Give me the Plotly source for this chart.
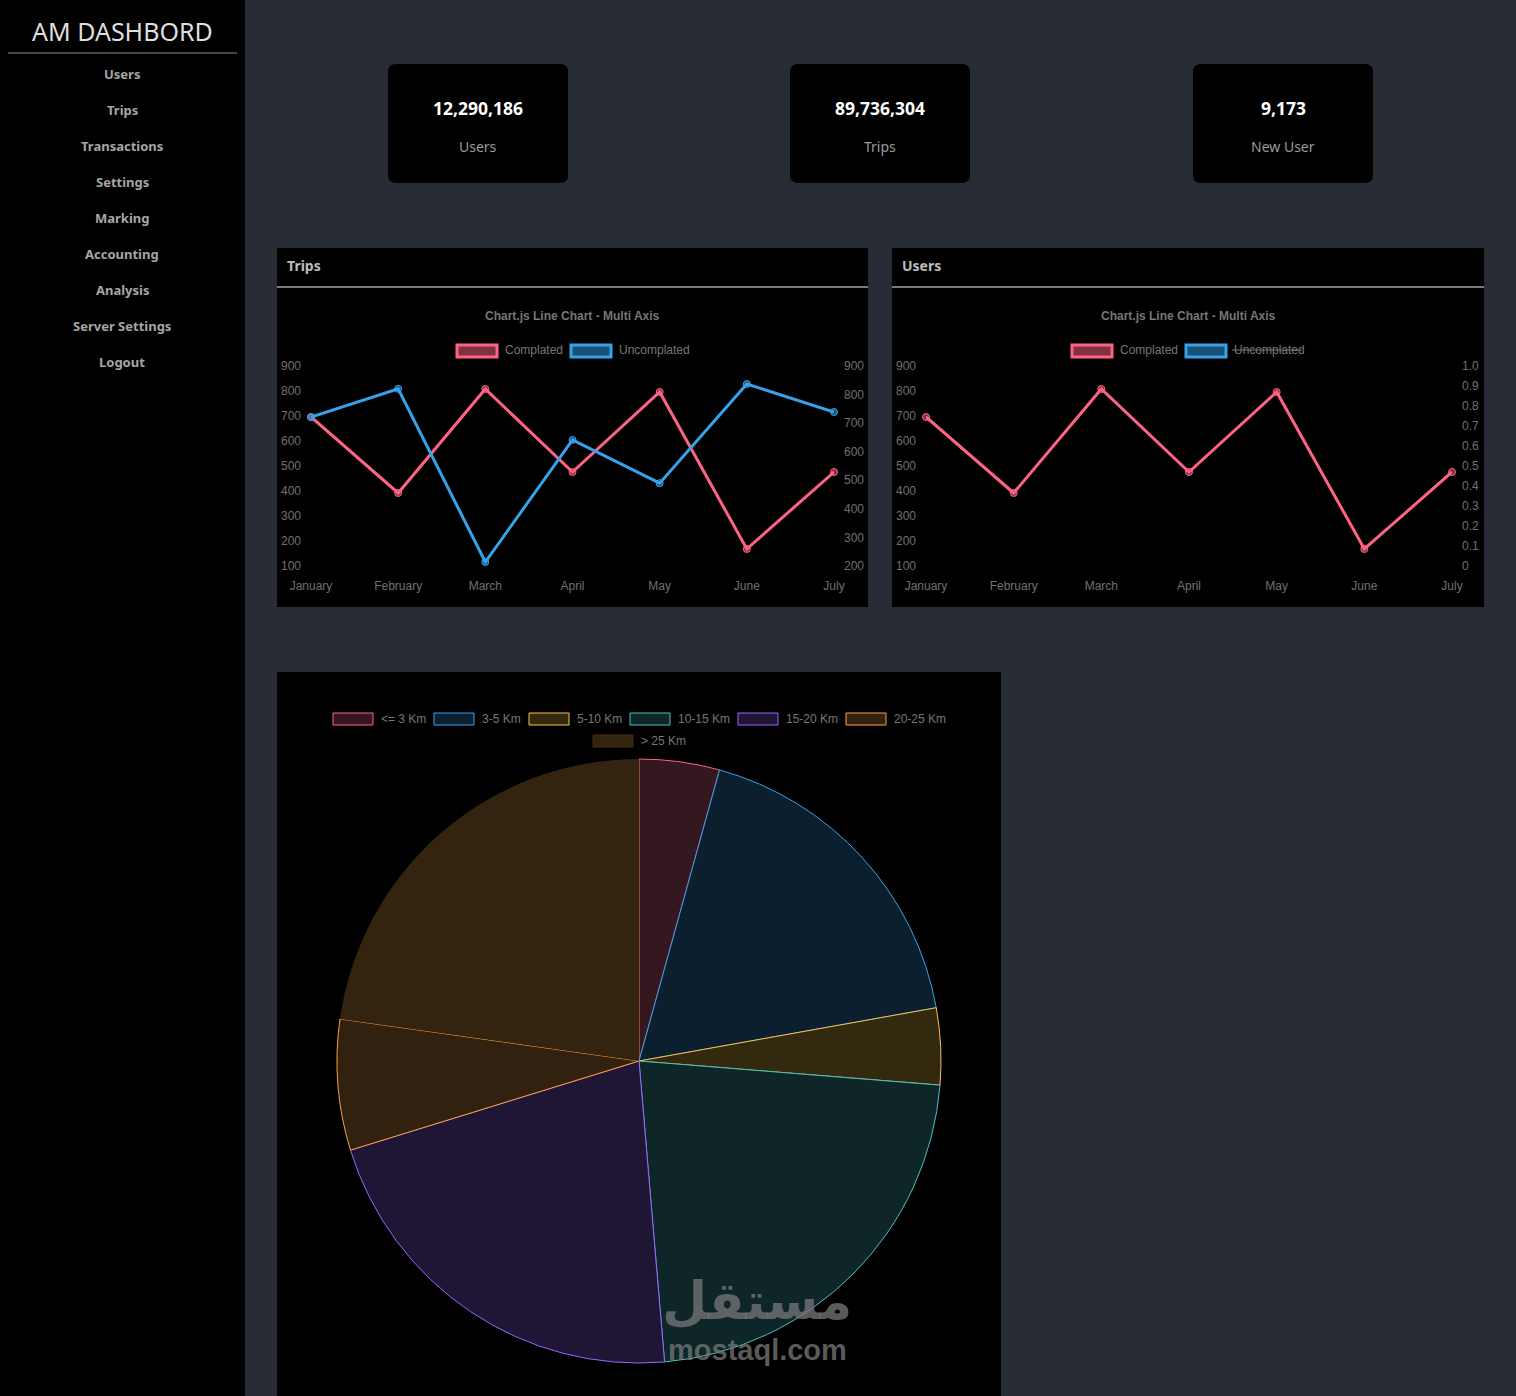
import plotly.graph_objects as go

W, H = 1516, 1396

# Data
menu_items = ["Users", "Trips", "Transactions", "Settings", "Marking",
              "Accounting", "Analysis", "Server Settings", "Logout"]
kpi_values = ["12,290,186", "89,736,304", "9,173"]
kpi_labels = ["Users", "Trips", "New User"]

months = ["January", "February", "March", "April", "May", "June", "July"]
completed = [696, 392, 808, 476, 796, 168, 476]
uncompleted = [721, 820, 214, 641, 490, 837, 739]

distance_labels = ["<= 3 Km", "3-5 Km", "5-10 Km", "10-15 Km", "15-20 Km", "20-25 Km", "> 25 Km"]
distance_share = [4.3, 17.9, 4.1, 22.4, 21.6, 7.0, 22.8]

users_right_ticks = [0, 0.1, 0.2, 0.3, 0.4, 0.5, 0.6, 0.7, 0.8, 0.9, 1.0]
users_right_text = ["0", "0.1", "0.2", "0.3", "0.4", "0.5", "0.6", "0.7", "0.8", "0.9", "1.0"]

PINK = "rgb(255,99,132)"
BLUE = "rgb(54,162,235)"
pie_borders = ["rgb(255,99,132)", "rgb(54,162,235)", "rgb(255,190,80)", "rgb(75,192,192)",
               "rgb(153,102,255)", "rgb(255,159,64)", "rgba(0,0,0,0)"]
legend_borders = pie_borders[:6] + ["rgb(70,46,22)"]
pie_fills = ["#35171f", "#0b1f2e", "#33290f", "#0f2628", "#1f1535", "#33210f", "#33230f"]

BG = "#282c34"
UI_FONT = "Noto Sans"
CHART_FONT = "Liberation Sans"


def px(x):
    return x / W


def py(y):
    return 1 - y / H


def rect(x0, y0, x1, y1, fill, line=None, lw=0):
    return dict(type="rect", xref="paper", yref="paper", layer="below",
                x0=px(x0), x1=px(x1), y0=py(y1), y1=py(y0),
                fillcolor=fill, line=dict(color=line or fill, width=lw))


def rounded(x0, y0, x1, y1, r, fill):
    X0, X1, Y0, Y1 = px(x0), px(x1), py(y0), py(y1)
    rx, ry = r / W, r / H
    path = (f"M {X0+rx},{Y0} L {X1-rx},{Y0} Q {X1},{Y0} {X1},{Y0-ry} "
            f"L {X1},{Y1+ry} Q {X1},{Y1} {X1-rx},{Y1} L {X0+rx},{Y1} "
            f"Q {X0},{Y1} {X0},{Y1+ry} L {X0},{Y0-ry} Q {X0},{Y0} {X0+rx},{Y0} Z")
    return dict(type="path", xref="paper", yref="paper", layer="below", path=path,
                fillcolor=fill, line=dict(width=0))


def hline(x0, x1, y, color, width):
    return dict(type="line", xref="paper", yref="paper", layer="below",
                x0=px(x0), x1=px(x1), y0=py(y), y1=py(y), line=dict(color=color, width=width))


def text(x, y, s, size, color, family=UI_FONT, anchor="center", bold=False):
    return dict(xref="paper", yref="paper", x=px(x), y=py(y), text=f"<b>{s}</b>" if bold else s,
                showarrow=False, xanchor=anchor, yanchor="middle",
                font=dict(size=size, color=color, family=family))


shapes = []
annotations = []

# Sidebar
shapes.append(rect(0, 0, 245, H, "#000000"))
shapes.append(hline(8, 237, 53, "#8a8a8a", 1))
annotations.append(text(122, 31, "AM DASHBORD", 25, "#dedede"))
for i, item in enumerate(menu_items):
    annotations.append(text(122, 74 + 36 * i, item, 13, "#a6a6a6", bold=True))

# KPI cards
for i, (v, lab) in enumerate(zip(kpi_values, kpi_labels)):
    x0 = [388, 790, 1193][i]
    shapes.append(rounded(x0, 64, x0 + 180, 183, 8, "#000000"))
    annotations.append(text(x0 + 90, 108, v, 17.5, "#ffffff", bold=True))
    annotations.append(text(x0 + 90, 146, lab, 14, "#9a9a9a"))

# Line chart panels
for x0, x1, title in [(277, 868, "Trips"), (892, 1484, "Users")]:
    shapes.append(rect(x0, 248, x1, 607, "#000000"))
    shapes.append(hline(x0, x1, 287, "#7c7c7c", 2))
    annotations.append(text(x0 + 8, 265, title, 14, "#bdbdbd", anchor="left", bold=True))
    annotations.append(text((x0 + x1) / 2, 316, "Chart.js Line Chart - Multi Axis", 12,
                            "#777777", family=CHART_FONT, bold=True))

# Manual chart.js-style legends for the line charts
for bx, strike in [(457, False), (1072, True)]:
    shapes.append(rect(bx, 345, bx + 40, 357, "rgba(255,99,132,0.5)", PINK, 3))
    annotations.append(text(bx + 46, 350, "Complated", 12, "#777777", CHART_FONT, "left"))
    shapes.append(rect(bx + 114, 345, bx + 154, 357, "rgba(54,162,235,0.5)", BLUE, 3))
    annotations.append(text(bx + 160, 350, "Uncomplated", 12, "#777777", CHART_FONT, "left"))
    if strike:
        shapes.append(hline(bx + 160, bx + 230, 350, "#777777", 1))

# Pie panel
shapes.append(rect(277, 672, 1001, H, "#000000"))
legend_pos = [(333, 719), (434, 719), (529, 719), (630, 719), (738, 719), (846, 719), (593, 741)]
for (lx, ly), lab, fc, lc in zip(legend_pos, distance_labels, pie_fills, legend_borders):
    shapes.append(rect(lx, ly - 6, lx + 40, ly + 6, fc, lc, 1))
    annotations.append(text(lx + 46, ly, lab, 12, "#777777", CHART_FONT, "left"))

# Watermark
annotations.append(dict(xref="paper", yref="paper", x=px(757), y=py(1333), text="<b>مستقل</b>",
                        showarrow=False, font=dict(size=52, color="rgba(120,120,120,0.75)",
                                                   family="DejaVu Sans")))
annotations.append(dict(xref="paper", yref="paper", x=px(757), y=py(1368), text="<b>mostaql.com</b>",
                        showarrow=False, font=dict(size=29, color="rgba(120,120,120,0.75)",
                                                   family="Liberation Sans")))

fig = go.Figure()

marker_pink = dict(size=7, color="rgba(255,99,132,0.5)", line=dict(color=PINK, width=1))
marker_blue = dict(size=7, color="rgba(54,162,235,0.5)", line=dict(color=BLUE, width=1))

fig.add_trace(go.Scatter(x=months, y=completed, mode="lines+markers", name="Complated",
                         line=dict(color=PINK, width=3), marker=marker_pink,
                         xaxis="x", yaxis="y", cliponaxis=False, showlegend=False))
fig.add_trace(go.Scatter(x=months, y=uncompleted, mode="lines+markers", name="Uncomplated",
                         line=dict(color=BLUE, width=3), marker=marker_blue,
                         xaxis="x", yaxis="y2", cliponaxis=False, showlegend=False))
fig.add_trace(go.Scatter(x=months, y=completed, mode="lines+markers", name="Complated",
                         line=dict(color=PINK, width=3), marker=marker_pink,
                         xaxis="x2", yaxis="y3", cliponaxis=False, showlegend=False))
fig.add_trace(go.Scatter(x=months, y=uncompleted, mode="lines+markers", name="Uncomplated",
                         line=dict(color=BLUE, width=3), marker=marker_blue,
                         xaxis="x2", yaxis="y4", visible="legendonly", showlegend=False))

fig.add_trace(go.Pie(labels=distance_labels, values=distance_share, sort=False,
                     direction="clockwise", rotation=0, textinfo="none", showlegend=False,
                     marker=dict(colors=pie_fills, line=dict(color=pie_borders, width=1)),
                     domain=dict(x=[px(337), px(941)], y=[py(1363), py(759)])))

tick_font = dict(size=12, color="#707070", family=CHART_FONT)
common_y = dict(showgrid=False, zeroline=False, showline=False, ticks="", automargin=False,
                tickfont=tick_font, ticklabelstandoff=9, fixedrange=True)
common_x = dict(type="category", range=[0, 6], showgrid=False, zeroline=False, showline=False,
                ticks="", automargin=False, tickfont=tick_font, ticklabelstandoff=11, fixedrange=True)
ydom = [py(566), py(366)]

fig.update_layout(
    width=W, height=H, margin=dict(l=0, r=0, t=0, b=0, pad=0, autoexpand=False),
    paper_bgcolor=BG, plot_bgcolor="rgba(0,0,0,0)",
    showlegend=False, hovermode=False,
    xaxis=dict(domain=[px(311), px(834)], anchor="y", **common_x),
    yaxis=dict(domain=ydom, anchor="x", range=[100, 900], dtick=100, side="left", **common_y),
    yaxis2=dict(overlaying="y", anchor="x", range=[200, 900], dtick=100, side="right", **common_y),
    xaxis2=dict(domain=[px(926), px(1452)], anchor="y3", **common_x),
    yaxis3=dict(domain=ydom, anchor="x2", range=[100, 900], dtick=100, side="left", **common_y),
    yaxis4=dict(overlaying="y3", anchor="x2", range=[0, 1], tickvals=users_right_ticks,
                ticktext=users_right_text, side="right", **common_y),
    shapes=shapes, annotations=annotations,
)

# page margin off so the 1516x1396 figure fills the window exactly
fig.write_html("out.html", config={"displayModeBar": False},
               post_script="document.body.style.margin='0';document.body.style.background='%s';" % BG)
